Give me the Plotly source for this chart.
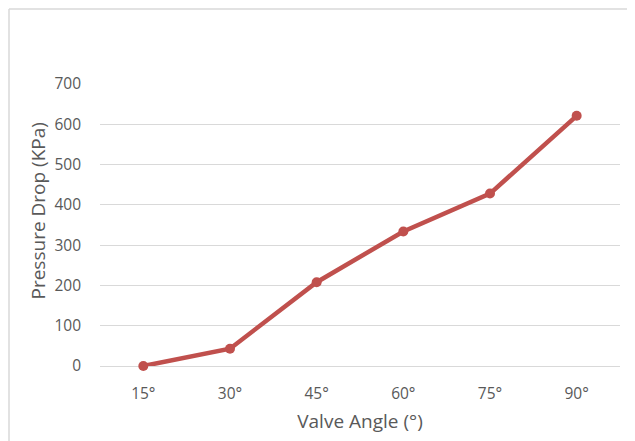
import plotly.graph_objects as go

angles = ["15°", "30°", "45°", "60°", "75°", "90°"]
pressure_drop = [0, 43, 208, 334, 428, 621]
y_ticks = [0, 100, 200, 300, 400, 500, 600, 700]

fig = go.Figure()
fig.add_trace(go.Scatter(
    x=angles, y=pressure_drop, mode="lines+markers",
    line=dict(color="#C0504D", width=4.5),
    marker=dict(color="#C0504D", size=10),
    cliponaxis=False,
    showlegend=False,
))

# page body adds an 8px margin; figure is sized so that the plot area lands
# at x 100..620, y 84..366 of the window
W, H = 627, 433
ML, MR, MT, MB = 92, 15, 76, 75
PW = W - ML - MR
PH = H - MT - MB

font_family = "Open Sans, Liberation Sans, sans-serif"
fig.update_layout(
    width=W, height=H,
    margin=dict(l=ML, r=MR, t=MT, b=MB),
    paper_bgcolor="white", plot_bgcolor="white",
    font=dict(family=font_family, color="#595959"),
    xaxis=dict(
        type="category", range=[-0.5, len(angles) - 0.5],
        showgrid=False, showline=False, zeroline=False,
        tickfont=dict(size=15.5, color="#595959"),
        ticks="", ticklabelstandoff=16,
        title=dict(text="Valve Angle (°)", font=dict(size=19, color="#595959"), standoff=12),
    ),
    yaxis=dict(
        range=[0, 700], tickvals=y_ticks, showgrid=True, gridcolor="#D9D9D9", gridwidth=1,
        zeroline=True, zerolinecolor="#D9D9D9", zerolinewidth=1,
        showline=False, ticks="", ticklabelstandoff=18,
        tickfont=dict(size=15.5, color="#595959"),
    ),
    annotations=[
        dict(text="Pressure Drop (KPa)", textangle=-90, showarrow=False,
             xref="paper", yref="paper", x=(37 - 100) / PW, y=(366 - 211.5) / PH,
             xanchor="center", yanchor="middle",
             font=dict(size=19, color="#595959", family=font_family)),
    ],
    shapes=[
        dict(type="line", xref="paper", yref="paper",
             x0=-(ML - 1) / PW, x1=1 + (MR + 5) / PW,
             y0=1 + (MT - 1) / PH, y1=1 + (MT - 1) / PH,
             line=dict(color="#D9D9D9", width=1.5)),
        dict(type="line", xref="paper", yref="paper",
             x0=-(ML - 1) / PW, x1=-(ML - 1) / PW,
             y0=1 + (MT - 1) / PH, y1=-(MB + 5) / PH,
             line=dict(color="#D9D9D9", width=1.5)),
    ],
)

fig.write_html("out.html")
